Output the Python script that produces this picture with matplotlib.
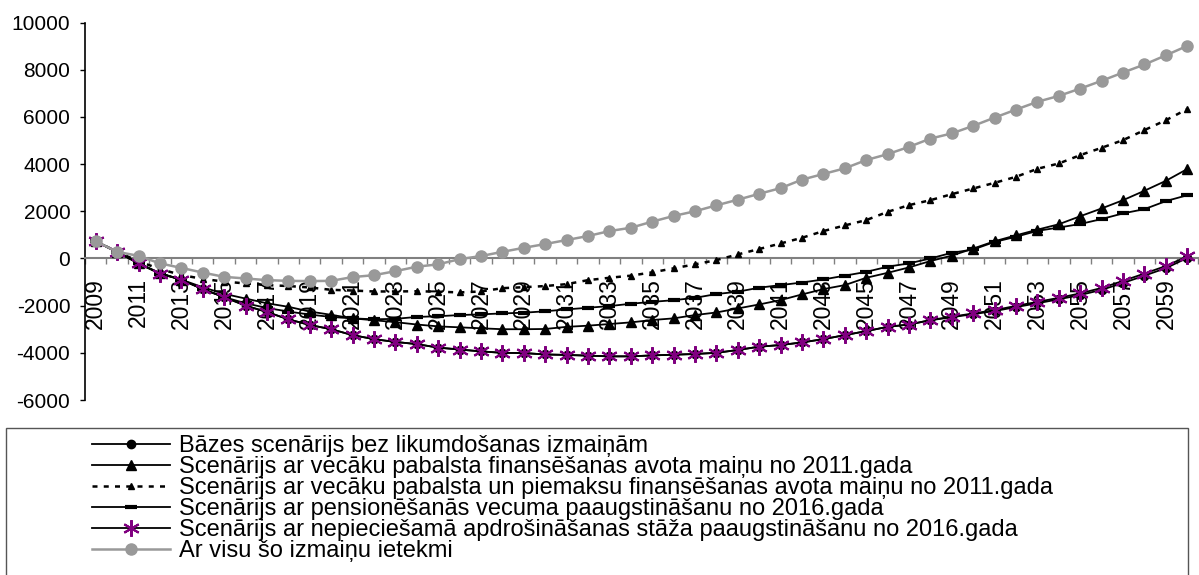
import matplotlib
matplotlib.use("Agg")
import matplotlib.pyplot as plt
from matplotlib.patches import Rectangle

plt.rcParams['font.family'] = ['Liberation Sans', 'DejaVu Sans']

years = list(range(2009, 2061))

base = [730, 280, -210, -640, -900, -1300, -1640, -2000, -2270, -2580,
        -2820, -3000, -3250, -3420, -3540, -3630, -3780, -3860, -3940, -4000,
        -4010, -4070, -4090, -4120, -4150, -4150, -4110, -4080, -4050, -4000,
        -3880, -3740, -3670, -3560, -3420, -3250, -3080, -2900, -2800, -2620,
        -2490, -2360, -2230, -2060, -1900, -1730, -1550, -1330, -1040, -730,
        -410, 20]
parental = [730, 280, -200, -620, -900, -1220, -1500, -1700, -1900, -2050,
            -2250, -2390, -2540, -2620, -2700, -2800, -2880, -2920, -2960, -3000,
            -3000, -2990, -2900, -2850, -2780, -2710, -2610, -2540, -2400, -2290,
            -2120, -1950, -1765, -1525, -1300, -1130, -820, -610, -380, -110,
            120, 420, 730, 980, 1220, 1450, 1790, 2120, 2470, 2870,
            3290, 3790]
parental_suppl = [730, 280, -120, -450, -700, -870, -980, -1060, -1130, -1170,
                  -1230, -1330, -1360, -1400, -1400, -1390, -1410, -1440, -1400, -1260,
                  -1220, -1170, -1090, -920, -820, -730, -590, -420, -250, -70,
                  170, 400, 635, 875, 1160, 1400, 1625, 1975, 2260, 2470,
                  2725, 2965, 3205, 3460, 3800, 4025, 4380, 4690, 5015, 5440,
                  5860, 6330]
pension_age = [730, 280, -210, -640, -900, -1300, -1640, -1900, -2100, -2250,
               -2380, -2480, -2540, -2580, -2560, -2480, -2450, -2400, -2370, -2330,
               -2300, -2240, -2160, -2090, -2020, -1920, -1840, -1770, -1670, -1510,
               -1410, -1240, -1130, -1020, -890, -730, -570, -350, -210, 0,
               240, 380, 700, 920, 1170, 1310, 1460, 1670, 1910, 2090,
               2430, 2680]
insurance = [730, 280, -210, -640, -900, -1300, -1640, -2000, -2270, -2580,
             -2820, -3000, -3250, -3420, -3540, -3630, -3780, -3860, -3940, -4000,
             -4010, -4070, -4090, -4120, -4150, -4150, -4110, -4080, -4050, -4000,
             -3880, -3740, -3670, -3560, -3420, -3250, -3080, -2900, -2800, -2610,
             -2470, -2330, -2190, -2010, -1840, -1670, -1480, -1250, -950, -640,
             -320, 90]
all_changes = [730, 280, 110, -210, -400, -600, -780, -850, -920, -950,
               -960, -950, -790, -710, -540, -350, -250, -30, 100, 280,
               450, 610, 780, 950, 1160, 1300, 1560, 1800, 2000, 2250,
               2490, 2740, 2980, 3340, 3580, 3820, 4170, 4420, 4730, 5080,
               5300, 5620, 5970, 6310, 6640, 6890, 7200, 7530, 7880, 8220,
               8610, 9010]

labels = [
    "Bāzes scenārijs bez likumdošanas izmaiņām",
    "Scenārijs ar vecāku pabalsta finansēšanas avota maiņu no 2011.gada",
    "Scenārijs ar vecāku pabalsta un piemaksu finansēšanas avota maiņu no 2011.gada",
    "Scenārijs ar pensionēšanās vecuma paaugstināšanu no 2016.gada",
    "Scenārijs ar nepieciešamā apdrošināšanas stāža paaugstināšanu no 2016.gada",
    "Ar visu šo izmaiņu ietekmi",
]
yticks = [-6000, -4000, -2000, 0, 2000, 4000, 6000, 8000, 10000]

W, H = 1199, 575
fig = plt.figure(figsize=(W / 100, H / 100), dpi=100)
ax = fig.add_axes([85 / W, 1 - 400 / H, (1198 - 85) / W, (400 - 22.5) / H])

x = list(range(len(years)))

h_base, = ax.plot(x, base, color='black', lw=1.3, marker='o', ms=6, zorder=3)
h_pen, = ax.plot(x, pension_age, color='black', lw=1.3, marker='_', ms=9, mew=3, zorder=3)
h_par, = ax.plot(x, parental, color='black', lw=1.3, marker='^', ms=6.5, zorder=3)
h_sup, = ax.plot(x, parental_suppl, color='black', lw=1.8, linestyle=(0, (2, 2.5)),
                 marker='^', ms=4, zorder=3)
h_ins, = ax.plot(x, insurance, color='black', lw=1.3, marker=(6, 2, 0), ms=12,
                 mec='#800080', mfc='#800080', mew=1.5, zorder=4)
h_all, = ax.plot(x, all_changes, color='#999999', lw=1.8, marker='o', ms=8,
                 mec='#999999', mfc='#999999', zorder=5)

ax.set_xlim(-0.5, len(years) - 0.5)
ax.set_ylim(-6000, 10000)

for s in ('top', 'right'):
    ax.spines[s].set_visible(False)
ax.spines['left'].set_color('black')
ax.spines['left'].set_linewidth(1.2)
ax.spines['bottom'].set_position(('data', 0))
ax.spines['bottom'].set_color('#808080')
ax.spines['bottom'].set_linewidth(1.5)

ax.set_yticks(yticks)
ax.set_yticklabels([str(v) for v in yticks])
ax.tick_params(axis='y', direction='out', length=3.6, width=1, colors='black',
               labelsize=15, pad=7)

ax.set_xticks(x[::2])
ax.set_xticklabels([str(y) for y in years[::2]], rotation=90)
ax.set_xticks([i - 0.5 for i in range(len(years) + 1)], minor=True)
ax.tick_params(axis='x', which='major', length=0, pad=14, labelsize=16.5)
ax.tick_params(axis='x', which='minor', length=4.5, width=1, color='#808080', direction='out')

fig.patches.append(Rectangle((6 / W, -0.05), (1188 - 6) / W, 1 - 428 / H + 0.05,
                             transform=fig.transFigure, fill=False,
                             edgecolor='#555555', lw=1.0))

fig.legend([h_base, h_par, h_sup, h_pen, h_ins, h_all], labels,
           loc='upper left', bbox_to_anchor=(92 / W, 1 - 435 / H),
           frameon=False, fontsize=17, borderpad=0, borderaxespad=0,
           handlelength=3.32, handletextpad=0.38, labelspacing=-0.04,
           numpoints=1)

fig.savefig('out.png', dpi=100)
